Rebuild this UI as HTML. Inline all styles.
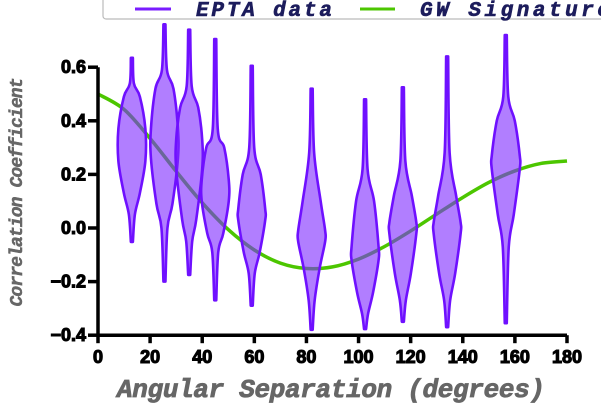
<!DOCTYPE html>
<html><head><meta charset="utf-8"><style>
html,body{margin:0;padding:0;background:#fff;}
svg{display:block;}
</style></head><body>
<svg id="chart" width="601" height="406" viewBox="0 0 601 406" xmlns="http://www.w3.org/2000/svg">
<g>
<rect x="103" y="-4" width="510" height="23" rx="3" fill="#fff" stroke="#bbb" stroke-width="1.2"/>
<line x1="135" y1="9" x2="171" y2="9" stroke="#7a1cff" stroke-width="3"/>
<text x="196" y="16" font-family="Liberation Mono, monospace" font-weight="bold" font-style="italic" font-size="21" fill="#1c1c5c" stroke="#1c1c5c" stroke-width="0.6" textLength="136" lengthAdjust="spacing">EPTA data</text>
<line x1="360" y1="9" x2="395" y2="9" stroke="#4cc600" stroke-width="3"/>
<text x="420" y="16" font-family="Liberation Mono, monospace" font-weight="bold" font-style="italic" font-size="21" fill="#1c1c5c" stroke="#1c1c5c" stroke-width="0.6" textLength="190" lengthAdjust="spacing">GW Signature</text>
</g>
<g id="plot"></g>
<text transform="translate(22,192) rotate(-90)" text-anchor="middle" font-family="Liberation Mono, monospace" font-weight="bold" font-style="italic" font-size="18" fill="#666" stroke="#666" stroke-width="0.5" textLength="229" lengthAdjust="spacing">Correlation Coefficient</text>
<text x="331" y="397" text-anchor="middle" font-family="Liberation Mono, monospace" font-weight="bold" font-style="italic" font-size="26" fill="#666" stroke="#666" stroke-width="0.8" textLength="428" lengthAdjust="spacing">Angular Separation (degrees)</text>
</svg>
<script>
const gwAngles=[0,10,20,30,40,50,60,70,80,90,100,110,120,130,140,150,160,170,180];
const gwValues=[0.5,0.4425,0.334,0.2115,0.094,-0.006,-0.082,-0.131,-0.151,-0.145,-0.116,-0.069,-0.011,0.052,0.114,0.170,0.213,0.241,0.25];
const violinAngles=[13,25.5,35,45,59,82,102.5,117,134,156.5];
const violinValues=[
[0.635,0.54,0.49,0.37,0.25,0.13,0.05,-0.052],
[0.76,0.59,0.52,0.37,0.26,0.09,0.0,-0.20],
[0.74,0.53,0.45,0.33,0.22,0.03,-0.05,-0.175],
[0.705,0.37,0.30,0.18,0.10,-0.02,-0.09,-0.27],
[0.605,0.30,0.20,0.07,0.03,-0.09,-0.17,-0.29],
[0.52,0.28,0.10,-0.01,-0.05,-0.15,-0.27,-0.38],
[0.48,0.22,0.10,-0.07,-0.12,-0.24,-0.32,-0.377],
[0.525,0.25,0.12,0.02,-0.02,-0.17,-0.27,-0.35],
[0.64,0.28,0.12,0.02,-0.02,-0.17,-0.27,-0.37],
[0.72,0.49,0.40,0.27,0.22,0.05,-0.07,-0.355]];
const violinDensity=[
[1,2,8,13.5,13.5,8,3,1],[1,2.5,9,13.5,13.5,8,3,1],[1,2.5,9,13,13,7,3,1],[1,2.5,9,13.5,13.5,8,3,1],[1,2.5,9,13.5,13.5,8,3,1],
[1,2.5,9,13.5,13.5,8,3,1],[1,2.5,9,13.5,13.5,8,3,1],[1,2.5,9,13.5,13.5,8,3,1],[1,2.5,9,13.5,13.5,8,3,1],[1,2.5,9,14,14,8,3,1]];
const xTicks=[0,20,40,60,80,100,120,140,160,180];
const yTicks=[0.6,0.4,0.2,0.0,-0.2,-0.4];
const yTickLabels=["0.6","0.4","0.2","0.0","\u22120.2","\u22120.4"];

const X=d=>98+d*(469/180);
const Y=v=>228-v*268;
const NS="http://www.w3.org/2000/svg";
const plot=document.getElementById('plot');
function mk(t,a){const e=document.createElementNS(NS,t);for(const k in a)e.setAttribute(k,a[k]);return e;}
function spline(pts){let d="M"+pts[0][0].toFixed(2)+","+pts[0][1].toFixed(2);
 for(let i=0;i<pts.length-1;i++){const p0=pts[Math.max(0,i-1)],p1=pts[i],p2=pts[i+1],p3=pts[Math.min(pts.length-1,i+2)];
  const c1=[p1[0]+(p2[0]-p0[0])/6,p1[1]+(p2[1]-p0[1])/6],c2=[p2[0]-(p3[0]-p1[0])/6,p2[1]-(p3[1]-p1[1])/6];
  d+=" C"+c1[0].toFixed(2)+","+c1[1].toFixed(2)+" "+c2[0].toFixed(2)+","+c2[1].toFixed(2)+" "+p2[0].toFixed(2)+","+p2[1].toFixed(2);}
 return d;}
const gw=mk('path',{d:spline(gwAngles.map((a,i)=>[X(a),Y(gwValues[i])])),fill:'none',stroke:'#4cc600','stroke-width':3.5});


plot.appendChild(gw);
violinAngles.forEach((a,i)=>{
 const cx=X(a),vals=violinValues[i],den=violinDensity[i];
 const right=vals.map((v,j)=>[cx+den[j],Y(v)]);
 const left=vals.map((v,j)=>[cx-den[j],Y(v)]).reverse();
 const d=spline(right)+spline(left).replace(/^M/,' L')+" Z";
 const p=mk('path',{d:d,fill:'rgba(125,40,255,0.6)',stroke:'#6f10ff','stroke-width':2.6,'stroke-linejoin':'round'});
 
 
 plot.appendChild(p);
});
const ax=mk('path',{d:`M${X(0)},${Y(0.6)} L${X(0)},${Y(-0.4)} L${X(180)},${Y(-0.4)}`,fill:'none',stroke:'#000','stroke-width':3.5});


plot.appendChild(ax);
yTicks.forEach((v,i)=>{
 const t=mk('line',{x1:X(0)-10,x2:X(0),y1:Y(v),y2:Y(v),stroke:'#000','stroke-width':3.5});
 
 
 plot.appendChild(t);
 const l=mk('text',{x:X(0)-12,y:Y(v)+6,'text-anchor':'end','font-family':'Liberation Sans, sans-serif','font-weight':'bold','font-size':18,fill:'#000',stroke:'#000','stroke-width':1.1});
 l.textContent=yTickLabels[i];
 
 
 plot.appendChild(l);
});
xTicks.forEach(d=>{
 const t=mk('line',{x1:X(d),x2:X(d),y1:Y(-0.4),y2:Y(-0.4)+8,stroke:'#000','stroke-width':3.5});
 
 
 plot.appendChild(t);
 const l=mk('text',{x:X(d),y:Y(-0.4)+28,'text-anchor':'middle','font-family':'Liberation Sans, sans-serif','font-weight':'bold','font-size':18,fill:'#000',stroke:'#000','stroke-width':1.1});
 l.textContent=String(d);
 
 
 plot.appendChild(l);
});
</script>
</body></html>
